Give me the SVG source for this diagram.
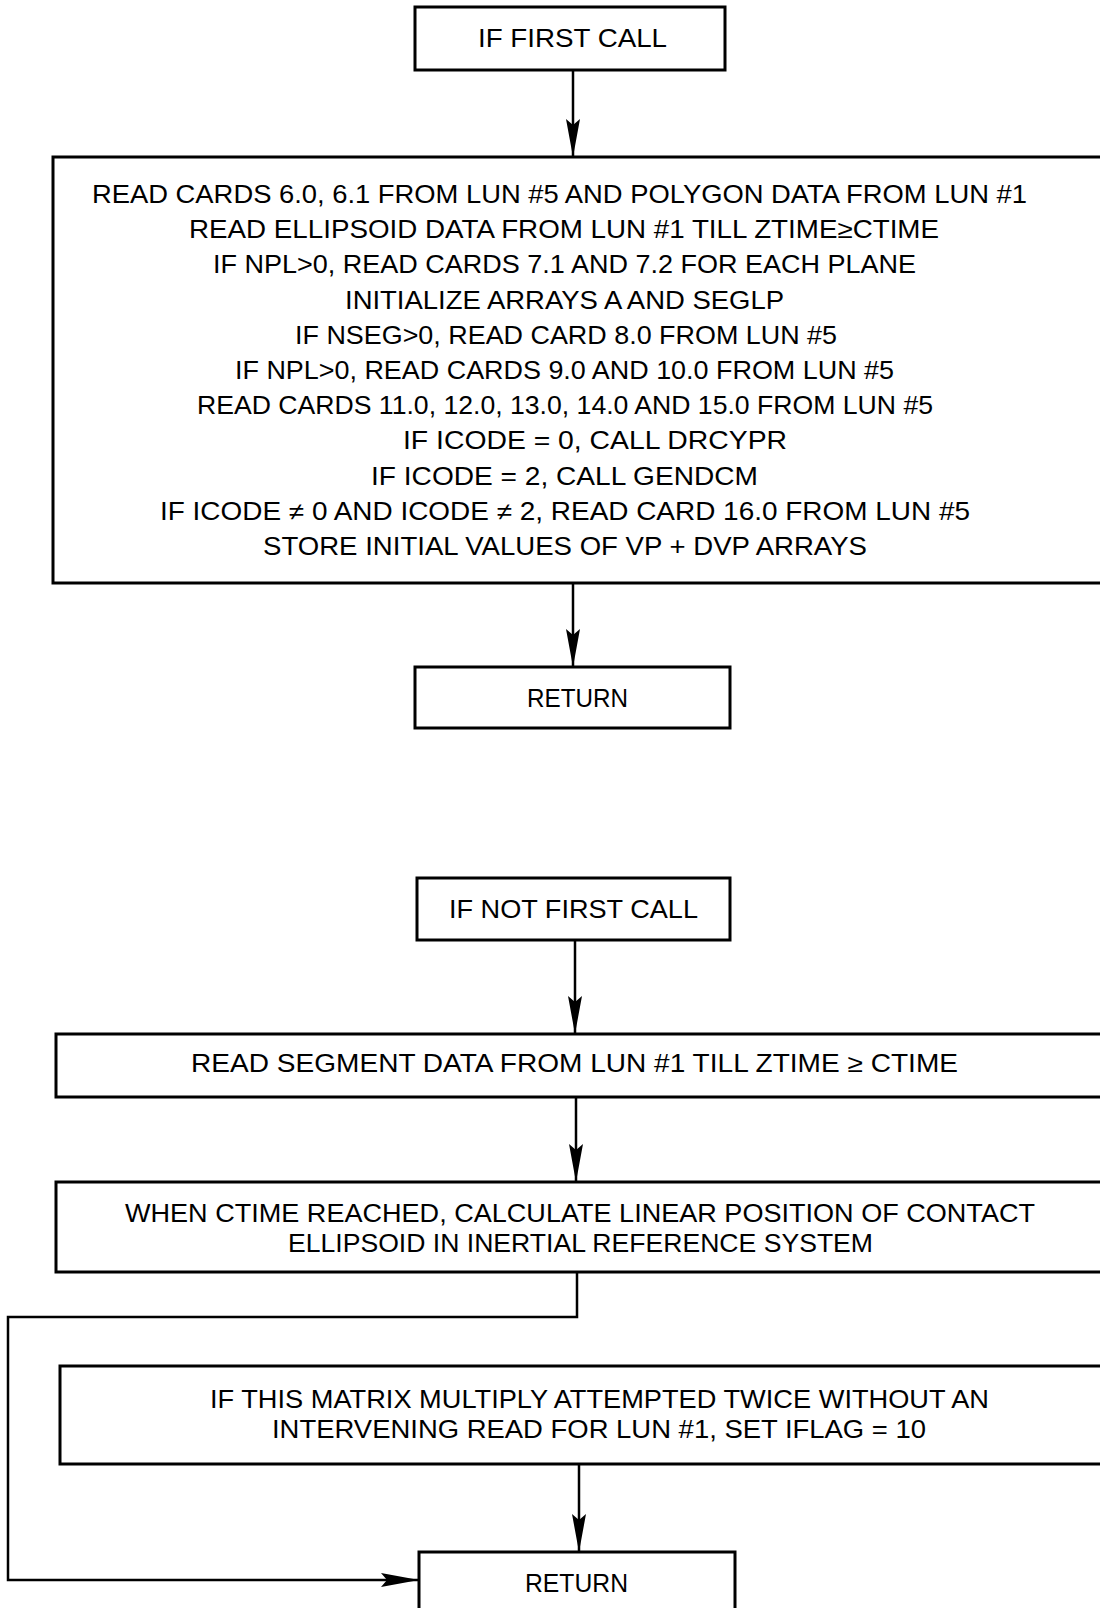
<svg xmlns="http://www.w3.org/2000/svg" width="1100" height="1608" viewBox="0 0 1100 1608">
<style>
.box{fill:#fff;stroke:#000;stroke-width:3}
.t{font-family:"Liberation Sans",Arial,sans-serif;font-size:25px;fill:#000}
.c{fill:none;stroke:#000;stroke-width:2.5}
</style>
<defs>
<marker id="ah" markerUnits="userSpaceOnUse" markerWidth="40" markerHeight="16" refX="38" refY="7" orient="auto">
<path d="M0,0 L38,7 L0,14 L6,7 z" fill="#000"/>
</marker>
</defs>
<rect width="1100" height="1608" fill="#fff"/>
<g id="connectors">
<path class="c" d="M573,70 L573,157" marker-end="url(#ah)"/>
<path class="c" d="M573,583 L573,667" marker-end="url(#ah)"/>
<path class="c" d="M575,940 L575,1034" marker-end="url(#ah)"/>
<path class="c" d="M576,1097 L576,1182" marker-end="url(#ah)"/>
<path class="c" d="M577,1272 L577,1317 L8,1317 L8,1580 L419,1580" marker-end="url(#ah)"/>
<path class="c" d="M579,1464 L579,1552" marker-end="url(#ah)"/>
</g>
<g id="n1">
<rect class="box" x="415" y="7" width="310" height="63"/>
<text class="t" x="478" y="47" textLength="189" lengthAdjust="spacingAndGlyphs">IF FIRST CALL</text>
</g>
<g id="n2">
<rect class="box" x="53" y="157" width="1060" height="426"/>
<text class="t" x="92" y="203" textLength="935" lengthAdjust="spacingAndGlyphs">READ CARDS 6.0, 6.1 FROM LUN #5 AND POLYGON DATA FROM LUN #1</text>
<text class="t" x="189" y="238" textLength="750" lengthAdjust="spacingAndGlyphs">READ ELLIPSOID DATA FROM LUN #1 TILL ZTIME≥CTIME</text>
<text class="t" x="213" y="273" textLength="703" lengthAdjust="spacingAndGlyphs">IF NPL&gt;0, READ CARDS 7.1 AND 7.2 FOR EACH PLANE</text>
<text class="t" x="345" y="309" textLength="439" lengthAdjust="spacingAndGlyphs">INITIALIZE ARRAYS A AND SEGLP</text>
<text class="t" x="295" y="344" textLength="542" lengthAdjust="spacingAndGlyphs">IF NSEG&gt;0, READ CARD 8.0 FROM LUN #5</text>
<text class="t" x="235" y="379" textLength="659" lengthAdjust="spacingAndGlyphs">IF NPL&gt;0, READ CARDS 9.0 AND 10.0 FROM LUN #5</text>
<text class="t" x="197" y="414" textLength="736" lengthAdjust="spacingAndGlyphs">READ CARDS 11.0, 12.0, 13.0, 14.0 AND 15.0 FROM LUN #5</text>
<text class="t" x="403" y="449" textLength="384" lengthAdjust="spacingAndGlyphs">IF ICODE = 0, CALL DRCYPR</text>
<text class="t" x="371" y="485" textLength="387" lengthAdjust="spacingAndGlyphs">IF ICODE = 2, CALL GENDCM</text>
<text class="t" x="160" y="520" textLength="810" lengthAdjust="spacingAndGlyphs">IF ICODE ≠ 0 AND ICODE ≠ 2, READ CARD 16.0 FROM LUN #5</text>
<text class="t" x="263" y="555" textLength="604" lengthAdjust="spacingAndGlyphs">STORE INITIAL VALUES OF VP + DVP ARRAYS</text>
</g>
<g id="n3">
<rect class="box" x="415" y="667" width="315" height="61"/>
<text class="t" x="527" y="707" textLength="101" lengthAdjust="spacingAndGlyphs">RETURN</text>
</g>
<g id="n4">
<rect class="box" x="417" y="878" width="313" height="62"/>
<text class="t" x="449" y="918" textLength="249" lengthAdjust="spacingAndGlyphs">IF NOT FIRST CALL</text>
</g>
<g id="n5">
<rect class="box" x="56" y="1034" width="1060" height="63"/>
<text class="t" x="191" y="1072" textLength="767" lengthAdjust="spacingAndGlyphs">READ SEGMENT DATA FROM LUN #1 TILL ZTIME ≥  CTIME</text>
</g>
<g id="n6">
<rect class="box" x="56" y="1182" width="1060" height="90"/>
<text class="t" x="125" y="1222" textLength="910" lengthAdjust="spacingAndGlyphs">WHEN CTIME REACHED, CALCULATE LINEAR POSITION OF CONTACT</text>
<text class="t" x="288" y="1252" textLength="585" lengthAdjust="spacingAndGlyphs">ELLIPSOID IN INERTIAL REFERENCE SYSTEM</text>
</g>
<g id="n7">
<rect class="box" x="60" y="1366" width="1060" height="98"/>
<text class="t" x="210" y="1408" textLength="779" lengthAdjust="spacingAndGlyphs">IF THIS MATRIX MULTIPLY ATTEMPTED TWICE WITHOUT AN</text>
<text class="t" x="272" y="1438" textLength="654" lengthAdjust="spacingAndGlyphs">INTERVENING READ FOR LUN #1, SET IFLAG = 10</text>
</g>
<g id="n8">
<rect class="box" x="419" y="1552" width="316" height="70"/>
<text class="t" x="525" y="1592" textLength="103" lengthAdjust="spacingAndGlyphs">RETURN</text>
</g>
</svg>
